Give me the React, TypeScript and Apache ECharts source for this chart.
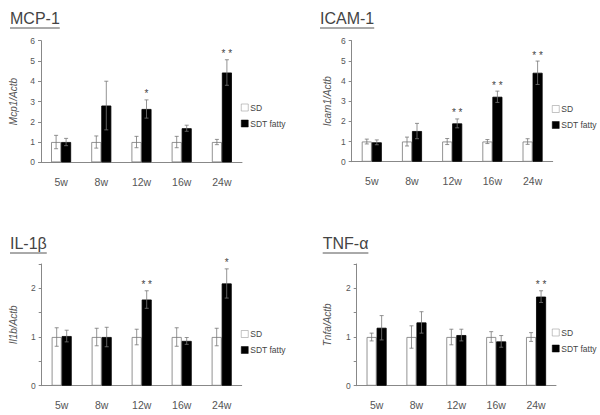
import React, { useEffect, useRef } from "react";
import * as echarts from "echarts";

const categories = ["5w", "8w", "12w", "16w", "24w"];

const mcpSD = [1, 1, 1, 1, 1];
const mcpSDErr = [0.33, 0.3, 0.28, 0.28, 0.13];
const mcpSDT = [1.0, 2.8, 2.63, 1.68, 4.43];
const mcpSDTErr = [0.18, 1.2, 0.45, 0.15, 0.63];
const mcpSig = ["", "", "*", "", "**"];

const icamSD = [1, 1, 1, 1, 1];
const icamSDErr = [0.12, 0.22, 0.15, 0.1, 0.14];
const icamSDT = [0.96, 1.52, 1.9, 3.22, 4.41];
const icamSDTErr = [0.12, 0.38, 0.22, 0.28, 0.58];
const icamSig = ["", "", "**", "**", "**"];

const il1bSD = [1, 1, 1, 1, 1];
const il1bSDErr = [0.19, 0.18, 0.16, 0.19, 0.18];
const il1bSDT = [1.02, 1.0, 1.77, 0.92, 2.1];
const il1bSDTErr = [0.12, 0.2, 0.18, 0.07, 0.3];
const il1bSig = ["", "", "**", "", "*"];

const tnfSD = [1, 1, 1, 1, 1];
const tnfSDErr = [0.08, 0.23, 0.16, 0.11, 0.09];
const tnfSDT = [1.19, 1.3, 1.04, 0.91, 1.83];
const tnfSDTErr = [0.25, 0.22, 0.12, 0.12, 0.12];
const tnfSig = ["", "", "", "", "**"];

const panelTitles = ["MCP-1", "ICAM-1", "IL-1β", "TNF-α"];
const yNames = ["Mcp1/Actb", "Icam1/Actb", "Il1b/Actb", "Tnfa/Actb"];
const yMax = [6, 6, 2.5, 2.5];
const yInterval = [1, 1, 0.5, 0.5];

const FONT = "'Liberation Sans', Arial, Helvetica, sans-serif";
const BAR_W = 10;

export default function App() {
  const ref = useRef<HTMLDivElement>(null);
  useEffect(() => {
    if (!ref.current) return;
    const chart = echarts.init(ref.current, null, { renderer: "svg" });

    const panels = [
      { sd: mcpSD, sdE: mcpSDErr, sdt: mcpSDT, sdtE: mcpSDTErr, sig: mcpSig },
      { sd: icamSD, sdE: icamSDErr, sdt: icamSDT, sdtE: icamSDTErr, sig: icamSig },
      { sd: il1bSD, sdE: il1bSDErr, sdt: il1bSDT, sdtE: il1bSDTErr, sig: il1bSig },
      { sd: tnfSD, sdE: tnfSDErr, sdt: tnfSDT, sdtE: tnfSDTErr, sig: tnfSig },
    ];

    const grids = [
      { left: 41, top: 40.7, width: 201, height: 121.6 },
      { left: 351.7, top: 40.7, width: 201, height: 121 },
      { left: 41.7, top: 264, width: 200, height: 121.7 },
      { left: 356.7, top: 264, width: 199.3, height: 121.7 },
    ];
    const nameGaps = [23, 19, 23, 24];
    const legendPos = [
      { left: 241, top: 103 },
      { left: 552, top: 104.5 },
      { left: 241, top: 329.5 },
      { left: 552, top: 328 },
    ];
    // baseline positions of the underlined panel titles
    const titlePos = [
      { x: 10, y: 24 },
      { x: 320, y: 24 },
      { x: 10, y: 249 },
      { x: 322.7, y: 249 },
    ];

    const canvas = document.createElement("canvas");
    const ctx = canvas.getContext("2d")!;
    ctx.font = `16px ${FONT}`;

    const graphic: any[] = [];
    panelTitles.forEach((t, i) => {
      const w = ctx.measureText(t).width;
      graphic.push({
        type: "text",
        x: titlePos[i].x,
        y: titlePos[i].y - 13.5,
        style: {
          text: t,
          fill: "#444",
          font: `16px ${FONT}`,
          verticalAlign: "top",
        },
      });
      graphic.push({
        type: "line",
        shape: {
          x1: titlePos[i].x,
          y1: titlePos[i].y + 4,
          x2: titlePos[i].x + w,
          y2: titlePos[i].y + 4,
        },
        style: { stroke: "#555", lineWidth: 1 },
      });
    });

    const xAxis: any[] = [];
    const yAxis: any[] = [];
    const series: any[] = [];
    const legend: any[] = [];

    panels.forEach((p, i) => {
      xAxis.push({
        type: "category",
        gridIndex: i,
        data: categories,
        axisLine: { lineStyle: { color: "#888", width: 1 } },
        axisTick: { show: false },
        axisLabel: { color: "#555", fontSize: 10.5, fontFamily: FONT, margin: 14 },
      });
      yAxis.push({
        type: "value",
        gridIndex: i,
        min: 0,
        max: yMax[i],
        interval: yInterval[i],
        name: yNames[i],
        nameLocation: "middle",
        nameGap: nameGaps[i],
        nameTextStyle: {
          color: "#555",
          fontSize: 10,
          fontStyle: "italic",
          fontFamily: FONT,
        },
        axisLine: { show: true, lineStyle: { color: "#888", width: 1 } },
        axisTick: { show: true, length: 3, lineStyle: { color: "#888" } },
        splitLine: { show: false },
        axisLabel: {
          color: "#555",
          fontSize: 8.5,
          fontFamily: FONT,
          margin: 6,
          formatter: (v: number) => (Number.isInteger(v) ? String(v) : ""),
        },
      });
      series.push({
        type: "bar",
        name: "SD",
        xAxisIndex: i,
        yAxisIndex: i,
        data: p.sd,
        barWidth: BAR_W,
        barGap: "0%",
        itemStyle: { color: "#fff", borderColor: "#777", borderWidth: 0.8 },
      });
      series.push({
        type: "bar",
        name: "SDT fatty",
        xAxisIndex: i,
        yAxisIndex: i,
        data: p.sdt,
        barWidth: BAR_W,
        barGap: "0%",
        itemStyle: { color: "#000", borderColor: "#000", borderWidth: 0.8 },
      });
      const makeErr = (vals: number[], errs: number[], off: number, sig?: string[]) => ({
        type: "custom",
        xAxisIndex: i,
        yAxisIndex: i,
        silent: true,
        clip: false,
        z: 5,
        data: vals.map((v, k) => [k, v, errs[k]]),
        encode: { x: 0, y: 1 },
        renderItem: (params: any, api: any) => {
          const idx = api.value(0);
          const v = api.value(1);
          const e = api.value(2);
          const top = api.coord([idx, v + e]);
          const bot = api.coord([idx, v - e]);
          const x = top[0] + off;
          const cap = 2;
          const children: any[] = [
            { type: "line", shape: { x1: x, y1: top[1], x2: x, y2: bot[1] }, style: { stroke: "#777", lineWidth: 0.8 } },
            { type: "line", shape: { x1: x - cap, y1: top[1], x2: x + cap, y2: top[1] }, style: { stroke: "#777", lineWidth: 0.8 } },
            { type: "line", shape: { x1: x - cap, y1: bot[1], x2: x + cap, y2: bot[1] }, style: { stroke: "#777", lineWidth: 0.8 } },
          ];
          if (sig && sig[idx]) {
            children.push({
              type: "text",
              x: x,
              y: top[1] - 6,
              style: {
                text: sig[idx].split("").join(" "),
                fill: "#444",
                font: `10px ${FONT}`,
                align: "center",
                verticalAlign: "middle",
              },
            });
          }
          return { type: "group", children };
        },
      });
      series.push(makeErr(p.sd, p.sdE, -BAR_W / 2));
      series.push(makeErr(p.sdt, p.sdtE, BAR_W / 2, p.sig));
      legend.push({
        orient: "vertical",
        left: legendPos[i].left,
        top: legendPos[i].top,
        itemWidth: 7,
        itemHeight: 7,
        itemGap: 7,
        icon: "rect",
        padding: 0,
        selectedMode: false,
        itemStyle: { borderWidth: 0.5, borderColor: "#888" },
        data: [
          { name: "SD", itemStyle: { color: "#fff", borderColor: "#888", borderWidth: 0.5 } },
          { name: "SDT fatty", itemStyle: { color: "#000", borderColor: "#000", borderWidth: 0.5 } },
        ],
        textStyle: { color: "#444", fontSize: 8.5, fontFamily: FONT, padding: [0, 0, 0, -3] },
      });
    });

    chart.setOption({
      animation: false,
      backgroundColor: "#fff",
      grid: grids,
      xAxis,
      yAxis,
      series,
      legend,
      graphic,
    });
    return () => chart.dispose();
  }, []);
  return (
    <div
      ref={ref}
      style={{ position: "fixed", left: 0, top: 0, width: 600, height: 415 }}
    />
  );
}
